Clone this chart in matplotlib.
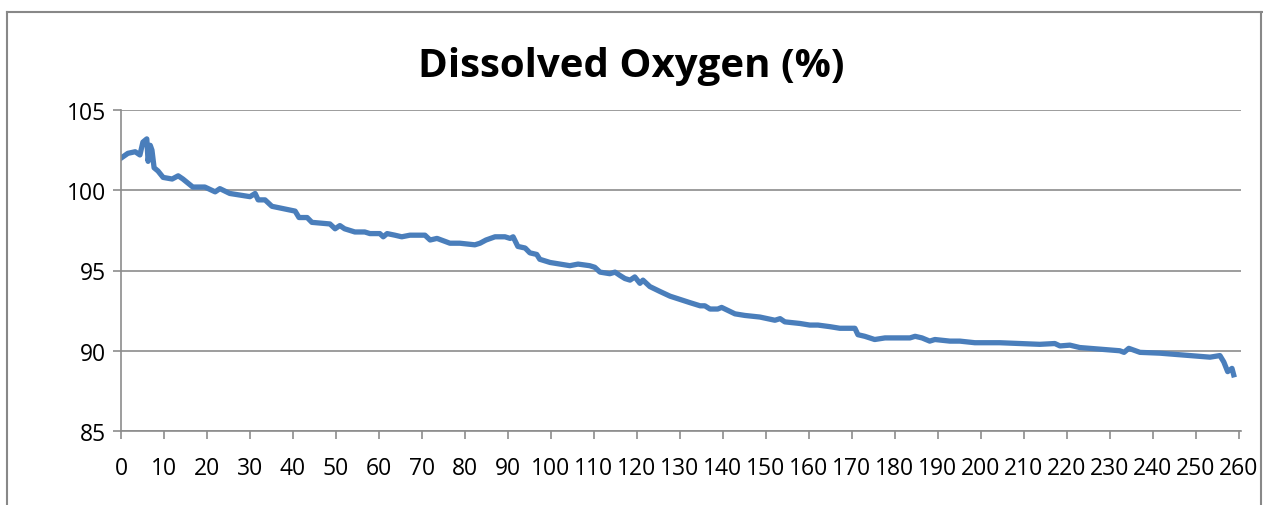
import numpy as np
import matplotlib
matplotlib.use('Agg')
import matplotlib.pyplot as plt
from matplotlib.lines import Line2D

# 读取自参考图的数据点
days = [0, 1.6, 3.3, 4.4, 5.1, 6.0, 6.3, 6.8, 7.2, 7.7, 8.6, 9.8, 11.9, 13.3, 14.4,
        16.7, 19.5, 21.9, 23.0, 25.3, 30.0, 31.2, 31.9, 33.5, 35.1, 40.5, 41.4, 43.3,
        44.4, 48.6, 49.8, 50.9, 52.0, 54.4, 56.7, 57.9, 60.2, 61.0, 61.9, 63.7, 65.3,
        67.2, 70.7, 71.9, 73.5, 76.5, 78.8, 82.3, 83.5, 84.9, 87.0, 89.3, 90.5, 91.2,
        92.3, 94.0, 95.1, 96.7, 97.4, 99.8, 102.1, 104.4, 106.3, 109.0, 110.2, 111.4,
        113.7, 114.9, 116.0, 117.2, 118.4, 119.5, 120.7, 121.4, 123.0, 125.3, 127.7,
        130.0, 132.3, 134.7, 135.8, 137.0, 138.8, 139.7, 142.8, 145.1, 148.6, 152.1,
        153.3, 154.4, 157.9, 160.2, 162.1, 164.9, 167.2, 170.7, 171.4, 173.0, 175.3,
        177.7, 183.5, 184.7, 186.3, 188.1, 189.3, 192.8, 195.1, 198.6, 204.4, 209.1,
        213.7, 217.2, 218.4, 220.7, 223.0, 227.7, 232.3, 233.3, 234.4, 237.0, 241.6,
        246.3, 253.3, 255.6, 256.5, 257.4, 258.4, 258.8]
oxygen = [102.0, 102.3, 102.4, 102.2, 103.0, 103.2, 101.8, 102.8, 102.5, 101.4, 101.2,
          100.8, 100.7, 100.9, 100.7, 100.2, 100.2, 99.9, 100.1, 99.8, 99.6, 99.8, 99.4,
          99.4, 99.0, 98.7, 98.3, 98.3, 98.0, 97.9, 97.6, 97.8, 97.6, 97.4, 97.4, 97.3,
          97.3, 97.1, 97.3, 97.2, 97.1, 97.2, 97.2, 96.9, 97.0, 96.7, 96.7, 96.6, 96.7,
          96.9, 97.1, 97.1, 97.0, 97.1, 96.5, 96.4, 96.1, 96.0, 95.7, 95.5, 95.4, 95.3,
          95.4, 95.3, 95.2, 94.9, 94.8, 94.9, 94.7, 94.5, 94.4, 94.6, 94.2, 94.4, 94.0,
          93.7, 93.4, 93.2, 93.0, 92.8, 92.8, 92.6, 92.6, 92.7, 92.3, 92.2, 92.1, 91.9,
          92.0, 91.8, 91.7, 91.6, 91.6, 91.5, 91.4, 91.4, 91.0, 90.9, 90.7, 90.8, 90.8,
          90.9, 90.8, 90.6, 90.7, 90.6, 90.6, 90.5, 90.5, 90.45, 90.4, 90.45, 90.3,
          90.35, 90.2, 90.1, 90.0, 89.9, 90.15, 89.9, 89.85, 89.75, 89.6, 89.7, 89.3,
          88.7, 88.9, 88.5]

x_ticks = list(range(0, 261, 10))
y_ticks = [85, 90, 95, 100, 105]

plt.rcParams['font.family'] = ['Open Sans', 'DejaVu Sans']

fig = plt.figure(figsize=(12.63, 5.06), dpi=100)
ax = fig.add_axes([121 / 1263, 1 - 432 / 506, 1120 / 1263, 321 / 506])

ax.plot(days, oxygen, color='#4A7EBB', linewidth=3.8, solid_joinstyle='round')

ax.set_xlim(0, 260.5)
ax.set_ylim(85, 105)
ax.set_xticks(x_ticks)
ax.set_yticks(y_ticks)
ax.set_xticklabels([str(t) for t in x_ticks], fontsize=16.5)
ax.set_yticklabels([str(t) for t in y_ticks], fontsize=16.5)

grid_c = '#8C8C8C'
ax.grid(axis='y', color=grid_c, linewidth=1.2)
ax.set_axisbelow(True)
for side in ['top', 'right']:
    ax.spines[side].set_visible(False)
ax.spines['left'].set_color(grid_c)
ax.spines['bottom'].set_color(grid_c)
ax.spines['left'].set_linewidth(1.2)
ax.spines['bottom'].set_linewidth(1.2)
ax.tick_params(axis='both', colors=grid_c, labelcolor='black', length=6, width=1.2)
ax.tick_params(axis='x', pad=12)
ax.tick_params(axis='y', pad=5)

fig.text(0.5, 1 - 66 / 506, 'Dissolved Oxygen (%)', ha='center', va='center',
         fontsize=29, fontweight='bold')

# 外边框
border_c = '#888888'
fig.add_artist(Line2D([7 / 1263, 7 / 1263], [0, 1 - 13 / 506], color=border_c, lw=1.5, transform=fig.transFigure))
fig.add_artist(Line2D([7 / 1263, 1], [1 - 13 / 506, 1 - 13 / 506], color=border_c, lw=1.5, transform=fig.transFigure))
fig.add_artist(Line2D([1261 / 1263, 1261 / 1263], [0, 1 - 13 / 506], color=border_c, lw=1.5, transform=fig.transFigure))

fig.savefig('out.png', dpi=100)
